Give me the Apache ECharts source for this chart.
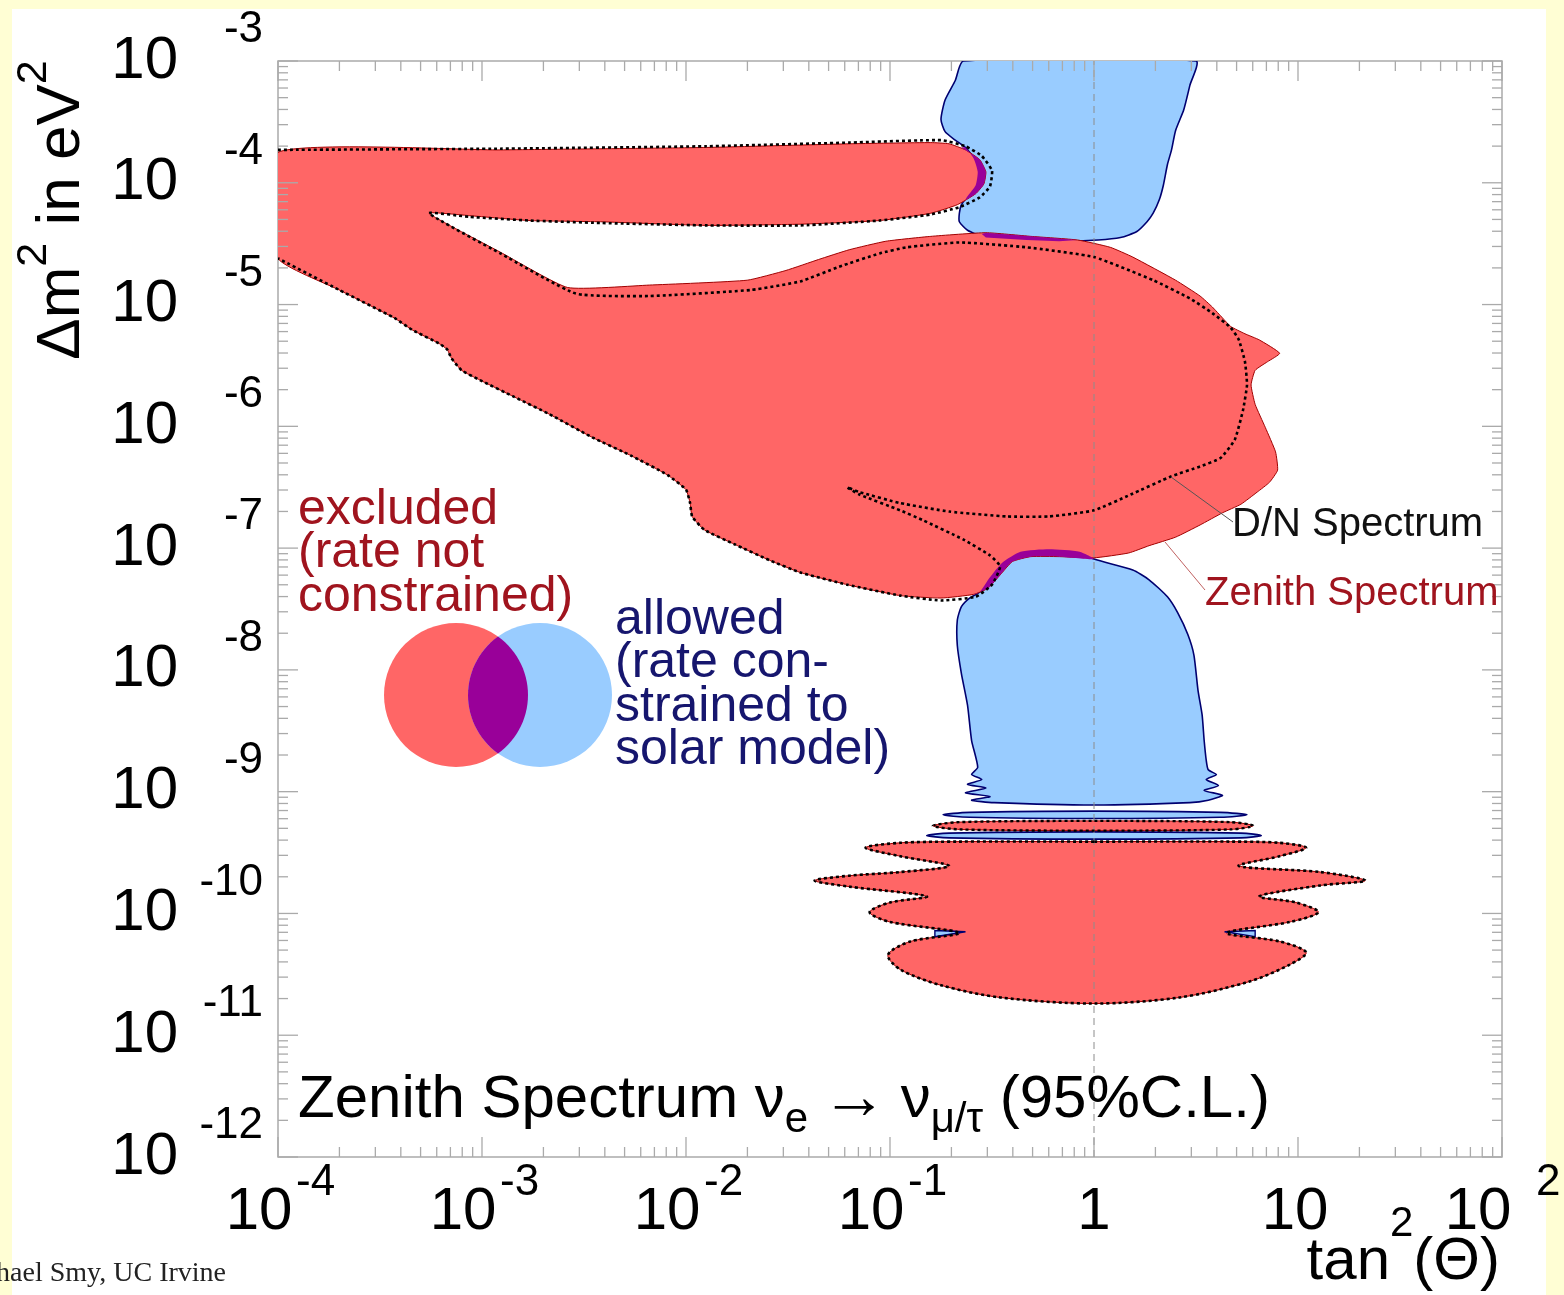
<!DOCTYPE html>
<html>
<head>
<meta charset="utf-8">
<title>Zenith Spectrum 95% C.L.</title>
<script src="https://cdn.jsdelivr.net/npm/echarts@6/dist/echarts.min.js"></script>
<style>
  html, body { margin: 0; padding: 0; background: #fffed4; width: 1564px; height: 1295px; overflow: hidden; }
  #paper { position: absolute; left: 12px; top: 9px; width: 1534px; height: 1286px; background: #ffffff; }
  #chart { position: absolute; left: 0; top: 0; width: 1564px; height: 1295px; }
</style>
</head>
<body>
<div id="paper"></div>
<div id="chart"></div>
<script>
// Contour vertices are stored as [log10(tan^2 theta), log10(dm^2 / eV^2)].

// Zenith-spectrum excluded region (upper, connected part)
const zenithExclUpper = [
  [-4.00,-3.75],[-2.91,-3.73],[-1.90,-3.71],[-1.20,-3.68],[-0.80,-3.67],[-0.71,-3.68],[-0.63,-3.73],
  [-0.56,-3.81],[-0.53,-3.91],[-0.54,-4.01],[-0.58,-4.09],[-0.67,-4.18],[-0.80,-4.25],[-1.05,-4.31],
  [-1.44,-4.34],[-1.90,-4.35],[-2.42,-4.32],[-2.77,-4.31],[-3.06,-4.27],[-3.26,-4.25],[-2.91,-4.57],
  [-2.58,-4.86],[-2.18,-4.84],[-1.70,-4.80],[-1.51,-4.72],[-1.35,-4.63],[-1.20,-4.55],[-1.02,-4.48],
  [-0.80,-4.44],[-0.53,-4.41],[-0.31,-4.44],[-0.08,-4.47],[0.08,-4.53],[0.19,-4.61],[0.40,-4.80],
  [0.52,-4.93],[0.58,-5.02],[0.63,-5.11],[0.67,-5.18],[0.74,-5.24],[0.81,-5.29],[0.91,-5.40],
  [0.85,-5.47],[0.79,-5.54],[0.77,-5.66],[0.79,-5.82],[0.84,-6.01],[0.89,-6.21],[0.90,-6.36],
  [0.86,-6.46],[0.80,-6.54],[0.72,-6.64],[0.63,-6.71],[0.52,-6.81],[0.40,-6.91],[0.27,-6.98],
  [0.17,-7.04],[0.00,-7.08],[-0.17,-7.07],[-0.31,-7.07],[-0.40,-7.11],[-0.46,-7.22],[-0.52,-7.33],
  [-0.59,-7.38],[-0.75,-7.41],[-0.95,-7.39],[-1.21,-7.30],[-1.44,-7.20],[-1.59,-7.10],[-1.76,-6.97],
  [-1.91,-6.85],[-1.97,-6.74],[-1.98,-6.63],[-2.00,-6.52],[-2.09,-6.40],[-2.27,-6.24],[-2.46,-6.09],
  [-2.67,-5.90],[-2.84,-5.76],[-3.01,-5.62],[-3.10,-5.54],[-3.15,-5.44],[-3.17,-5.37],[-3.21,-5.32],
  [-3.34,-5.21],[-3.43,-5.11],[-3.70,-4.88],[-4.00,-4.62]
];

// Day/night-spectrum excluded contour (upper part)
const dayNightUpper = [
  [-4.00,-3.73],[-2.91,-3.72],[-1.90,-3.70],[-1.20,-3.67],[-0.75,-3.65],[-0.63,-3.70],[-0.55,-3.78],
  [-0.50,-3.90],[-0.51,-4.03],[-0.56,-4.12],[-0.66,-4.20],[-0.80,-4.26],[-1.05,-4.31],[-1.44,-4.35],
  [-1.90,-4.35],[-2.42,-4.33],[-2.77,-4.31],[-3.06,-4.28],[-3.26,-4.25],[-2.91,-4.58],[-2.54,-4.91],
  [-2.18,-4.93],[-1.68,-4.88],[-1.44,-4.81],[-1.25,-4.69],[-1.05,-4.58],[-0.92,-4.53],[-0.66,-4.49],
  [-0.33,-4.53],[0.00,-4.61],[0.29,-4.80],[0.47,-4.95],[0.58,-5.07],[0.67,-5.19],[0.71,-5.29],
  [0.74,-5.47],[0.75,-5.66],[0.73,-5.87],[0.69,-6.11],[0.62,-6.26],[0.52,-6.33],[0.38,-6.41],
  [0.18,-6.56],[0.00,-6.69],[-0.22,-6.74],[-0.43,-6.74],[-0.71,-6.70],[-0.95,-6.63],[-1.15,-6.54],
  [-1.21,-6.50],[-1.15,-6.56],[-0.95,-6.69],[-0.84,-6.77],[-0.64,-6.93],[-0.51,-7.06],[-0.46,-7.15],
  [-0.50,-7.30],[-0.58,-7.40],[-0.75,-7.43],[-0.95,-7.39],[-1.21,-7.30],[-1.44,-7.20],[-1.59,-7.10],
  [-1.76,-6.97],[-1.91,-6.85],[-1.97,-6.74],[-1.98,-6.63],[-2.00,-6.52],[-2.09,-6.40],[-2.27,-6.24],
  [-2.46,-6.09],[-2.67,-5.90],[-2.84,-5.76],[-3.01,-5.62],[-3.10,-5.54],[-3.15,-5.44],[-3.17,-5.37],
  [-3.21,-5.32],[-3.34,-5.21],[-3.43,-5.11],[-3.70,-4.88],[-4.00,-4.62]
];

// Rate-constrained allowed region (large mixing angle, upper)
const allowedUpper = [
  [-0.64,-3.00],[-0.68,-3.16],[-0.73,-3.32],[-0.75,-3.48],[-0.73,-3.58],[-0.68,-3.65],[-0.63,-3.71],
  [-0.59,-3.80],[-0.57,-3.91],[-0.58,-4.02],[-0.62,-4.11],[-0.65,-4.18],[-0.66,-4.25],[-0.66,-4.32],
  [-0.62,-4.39],[-0.53,-4.45],[-0.33,-4.47],[-0.17,-4.48],[0.02,-4.47],[0.13,-4.45],[0.21,-4.40],
  [0.26,-4.32],[0.29,-4.25],[0.32,-4.14],[0.34,-4.02],[0.36,-3.85],[0.38,-3.73],[0.40,-3.57],
  [0.44,-3.40],[0.47,-3.20],[0.50,-3.00]
];

// Rate-constrained allowed region (LOW / vacuum, lower)
const allowedLower = [
  [0.00,-7.09],[0.19,-7.18],[0.27,-7.26],[0.36,-7.40],[0.41,-7.53],[0.46,-7.71],[0.49,-7.88],
  [0.51,-8.17],[0.53,-8.37],[0.54,-8.58],[0.55,-8.74],[0.56,-8.82],[0.60,-8.86],[0.55,-8.90],
  [0.61,-8.95],[0.54,-8.99],[0.63,-9.03],[0.56,-9.07],[0.47,-9.09],[0.00,-9.11],[-0.49,-9.09],
  [-0.60,-9.07],[-0.51,-9.04],[-0.63,-9.01],[-0.53,-8.97],[-0.62,-8.94],[-0.55,-8.90],[-0.60,-8.86],
  [-0.57,-8.80],[-0.60,-8.58],[-0.62,-8.29],[-0.65,-8.03],[-0.67,-7.80],[-0.67,-7.59],[-0.65,-7.48],
  [-0.61,-7.41],[-0.56,-7.36],[-0.51,-7.24],[-0.45,-7.12],[-0.36,-7.03],[-0.22,-7.01],[-0.07,-7.03]
];

// Thin vacuum bands just below the LOW region
const allowedBandA = [
  [-0.74,-9.19],[-0.61,-9.17],[0.00,-9.16],[0.62,-9.17],[0.75,-9.19],[0.62,-9.21],[0.00,-9.22],[-0.61,-9.21]
];
const zenithExclBand = [
  [-0.79,-9.28],[-0.66,-9.25],[0.00,-9.24],[0.67,-9.25],[0.78,-9.28],[0.67,-9.31],[0.00,-9.32],[-0.66,-9.31]
];
const allowedBandB = [
  [-0.82,-9.36],[-0.71,-9.34],[0.00,-9.33],[0.72,-9.34],[0.82,-9.36],[0.72,-9.38],[0.00,-9.39],[-0.71,-9.38]
];

// Zenith-spectrum excluded region (vacuum oscillation lobes)
const zenithExclLower = [
  [0.00,-9.41],[-0.66,-9.41],[-0.95,-9.42],[-1.12,-9.46],[-0.95,-9.53],[-0.71,-9.61],[-0.95,-9.66],
  [-1.20,-9.69],[-1.37,-9.73],[-1.20,-9.78],[-0.82,-9.86],[-1.00,-9.91],[-1.10,-9.99],[-1.00,-10.07],
  [-0.66,-10.16],[-0.90,-10.23],[-1.01,-10.34],[-0.95,-10.46],[-0.75,-10.59],[-0.46,-10.69],[0.00,-10.74],
  [0.42,-10.69],[0.76,-10.56],[0.96,-10.42],[1.04,-10.32],[0.91,-10.23],[0.65,-10.16],[0.96,-10.07],
  [1.10,-9.99],[0.99,-9.91],[0.81,-9.86],[1.11,-9.77],[1.33,-9.73],[1.11,-9.66],[0.71,-9.61],
  [0.91,-9.53],[1.04,-9.46],[0.91,-9.42],[0.67,-9.41]
];
const allowedNotchL = [[-0.78,-10.14],[-0.63,-10.15],[-0.78,-10.19]];
const allowedNotchR = [[0.79,-10.14],[0.64,-10.15],[0.79,-10.19]];

// Overlap of excluded and allowed regions
const overlapTip = [
  [-0.65,-3.71],[-0.56,-3.81],[-0.53,-3.91],[-0.54,-4.01],[-0.58,-4.09],[-0.63,-4.14],
  [-0.62,-4.11],[-0.58,-4.02],[-0.57,-3.91],[-0.59,-3.80],[-0.63,-3.71]
];
const overlapMid = [
  [-0.55,-4.42],[-0.53,-4.41],[-0.31,-4.44],[-0.08,-4.47],[-0.17,-4.48],[-0.33,-4.47],[-0.53,-4.45]
];
const overlapLow = [
  [-0.56,-7.36],[-0.51,-7.24],[-0.45,-7.12],[-0.36,-7.03],[-0.22,-7.01],[-0.07,-7.03],[0.00,-7.09],
  [-0.17,-7.07],[-0.31,-7.07],[-0.40,-7.11],[-0.46,-7.22],[-0.52,-7.33],[-0.59,-7.38]
];

// Axis decades and tick labels
const xDecades = [-4, -3, -2, -1, 0, 1, 2];
const xTickText = [['10','-4'],['10','-3'],['10','-2'],['10','-1'],['1',''],['10',''],['10','2']];
const yDecades = [-3, -4, -5, -6, -7, -8, -9, -10, -11, -12];
const yTickText = [['10','-3'],['10','-4'],['10','-5'],['10','-6'],['10','-7'],['10','-8'],
                   ['10','-9'],['10','-10'],['10','-11'],['10','-12']];

const X_MIN = 1e-4, X_MAX = 1e2, Y_MIN = 1e-12, Y_MAX = 1e-3;

const FONT = '"Liberation Sans", Arial, Helvetica, sans-serif';
const SERIF = '"Liberation Serif", "Times New Roman", serif';
const RED = '#ff6666', BLUE = '#99ccff', PURPLE = '#990099';
const RED_LINE = '#a00000', BLUE_LINE = '#000070';
const TXT_RED = '#a0141e', TXT_BLUE = '#16166e';
const AXIS = '#aaaaaa';

// text measuring for multi-size runs (super/subscripts)
const mctx = document.createElement('canvas').getContext('2d');
function tw(text, size, fam) { mctx.font = size + 'px ' + fam; return mctx.measureText(text).width; }
function run(pieces, x, y, align, color, fam) {
  fam = fam || FONT;
  const w = pieces.map(p => tw(p[0], p[1], fam));
  const total = w.reduce((a, b) => a + b, 0);
  let cx = align === 'right' ? x - total : (align === 'center' ? x - total / 2 : x);
  return pieces.map((p, i) => {
    const el = {
      type: 'text', x: cx, y: y + (p[2] || 0), z: 50,
      style: { text: p[0], font: p[1] + 'px ' + fam, fill: p[3] || color,
               textAlign: 'left', align: 'left', textVerticalAlign: 'middle', verticalAlign: 'middle' }
    };
    cx += w[i];
    return el;
  });
}

const toData = pts => pts.map(p => [Math.pow(10, p[0]), Math.pow(10, p[1])]);

function region(name, pts, opt) {
  const data = toData(pts);
  return {
    type: 'custom', name, coordinateSystem: 'cartesian2d', silent: true, z: opt.z, clip: true,
    data,
    renderItem(params, api) {
      if (params.dataIndex !== 0) return null;
      const points = data.map(d => api.coord(d));
      const smooth = opt.smooth || 0;
      if (opt.fill) {
        return { type: 'polygon', shape: { points, smooth },
                 style: { fill: opt.fill, stroke: opt.stroke || null, lineWidth: opt.width || 0 } };
      }
      if (opt.closed) {
        return { type: 'polygon', shape: { points, smooth },
                 style: { fill: null, stroke: opt.stroke, lineWidth: opt.width, lineDash: opt.dash || null } };
      }
      return { type: 'polyline', shape: { points, smooth },
               style: { fill: null, stroke: opt.stroke, lineWidth: opt.width, lineDash: opt.dash || null } };
    }
  };
}

// tick marks (major from decades, minor at 2..9 within each decade)
const xTicks = [], yTicks = [];
xDecades.forEach(d => xTicks.push([Math.pow(10, d), Y_MIN, 20]));
for (let d = -4; d < 2; d++) for (let m = 2; m <= 9; m++) xTicks.push([m * Math.pow(10, d), Y_MIN, 10]);
yDecades.forEach(d => yTicks.push([X_MIN, Math.pow(10, d), 20]));
for (let d = -12; d < -3; d++) for (let m = 2; m <= 9; m++) yTicks.push([X_MIN, m * Math.pow(10, d), 10]);

const tickStyle = { stroke: AXIS, lineWidth: 1.3 };
const xTickSeries = {
  type: 'custom', coordinateSystem: 'cartesian2d', silent: true, z: 8, data: xTicks,
  renderItem(params, api) {
    const cs = params.coordSys, len = api.value(2);
    const px = api.coord([api.value(0), Y_MIN])[0], b = cs.y + cs.height;
    return { type: 'group', children: [
      { type: 'line', shape: { x1: px, y1: b, x2: px, y2: b - len }, style: tickStyle },
      { type: 'line', shape: { x1: px, y1: cs.y, x2: px, y2: cs.y + len }, style: tickStyle } ] };
  }
};
const yTickSeries = {
  type: 'custom', coordinateSystem: 'cartesian2d', silent: true, z: 8, data: yTicks,
  renderItem(params, api) {
    const cs = params.coordSys, len = api.value(2);
    const py = api.coord([X_MIN, api.value(1)])[1], r = cs.x + cs.width;
    return { type: 'group', children: [
      { type: 'line', shape: { x1: cs.x, y1: py, x2: cs.x + len, y2: py }, style: tickStyle },
      { type: 'line', shape: { x1: r, y1: py, x2: r - len, y2: py }, style: tickStyle } ] };
  }
};

// tick labels in the "10^n" form
const xLabelSeries = {
  type: 'custom', coordinateSystem: 'cartesian2d', silent: true, z: 9,
  data: xDecades.map(d => [Math.pow(10, d), Y_MIN]),
  renderItem(params, api) {
    const cs = params.coordSys, t = xTickText[params.dataIndex];
    const px = api.coord([api.value(0), Y_MIN])[0], b = cs.y + cs.height;
    const st = (text, size, align) => ({ text, font: size + 'px ' + FONT, fill: '#000',
      textAlign: align, align, textVerticalAlign: 'middle', verticalAlign: 'middle' });
    if (!t[1]) return { type: 'text', x: px - (t[0] === '10' ? 3 : 0), y: b + 55, style: st(t[0], 60, 'center') };
    const last = params.dataIndex === xTickText.length - 1;
    return { type: 'group', children: [
      { type: 'text', x: px - (last ? 24 : 19), y: b + 55, style: st(t[0], 60, 'center') },
      { type: 'text', x: px + (last ? 34 : 18), y: b + 26, style: st(t[1], 44, 'left') } ] };
  }
};
const yLabelSeries = {
  type: 'custom', coordinateSystem: 'cartesian2d', silent: true, z: 9,
  data: yDecades.map(d => [X_MIN, Math.pow(10, d)]),
  renderItem(params, api) {
    const cs = params.coordSys, t = yTickText[params.dataIndex];
    const py = api.coord([X_MIN, api.value(1)])[1];
    const st = (text, size) => ({ text, font: size + 'px ' + FONT, fill: '#000',
      textAlign: 'right', align: 'right', textVerticalAlign: 'middle', verticalAlign: 'middle' });
    return { type: 'group', children: [
      { type: 'text', x: cs.x - 100, y: py, style: st(t[0], 60) },
      { type: 'text', x: cs.x - 15, y: py - 31, style: st(t[1], 44) } ] };
  }
};

// overlap legend drawing (two circles and their lens)
function lens(c1, c2, r) {
  const a = Math.acos((c2[0] - c1[0]) / 2 / r), pts = [];
  for (let i = 0; i <= 30; i++) { const t = -a + 2 * a * i / 30; pts.push([c1[0] + r * Math.cos(t), c1[1] + r * Math.sin(t)]); }
  for (let i = 0; i <= 30; i++) { const t = Math.PI - a + 2 * a * i / 30; pts.push([c2[0] + r * Math.cos(t), c2[1] + r * Math.sin(t)]); }
  return pts;
}
const vennRed = [456, 695], vennBlue = [540, 695], vennR = 72;

const graphics = [].concat(
  [
    { type: 'circle', z: 40, shape: { cx: vennRed[0], cy: vennRed[1], r: vennR }, style: { fill: RED } },
    { type: 'circle', z: 41, shape: { cx: vennBlue[0], cy: vennBlue[1], r: vennR }, style: { fill: BLUE } },
    { type: 'polygon', z: 42, shape: { points: lens(vennRed, vennBlue, vennR) }, style: { fill: PURPLE } },
    { type: 'line', z: 45, shape: { x1: 1171, y1: 477, x2: 1233, y2: 522 }, style: { stroke: '#555', lineWidth: 1 } },
    { type: 'line', z: 45, shape: { x1: 1165, y1: 542, x2: 1205, y2: 590 }, style: { stroke: '#c06060', lineWidth: 1 } },
    { type: 'group', x: 62, y: 210, rotation: Math.PI / 2, z: 50,
      children: run([['\u0394m', 62], ['2', 43, -28], [' in eV', 62], ['2', 43, -28]], 0, 0, 'center', '#000') }
  ],
  run([['tan', 60], ['2', 42, -38], ['(\u0398)', 60]], 1500, 1262, 'right', '#000'),
  run([['Zenith Spectrum ', 60], ['\u03bd', 60], ['e', 42, 20], ['\u2009\u2192\u2009', 66], ['\u03bd', 60],
       ['\u03bc/\u03c4', 42, 20], [' (95%C.L.)', 60]], 298, 1100, 'left', '#000'),
  run([['excluded', 50]], 298, 510, 'left', TXT_RED),
  run([['(rate not', 50]], 298, 553, 'left', TXT_RED),
  run([['constrained)', 50]], 298, 597, 'left', TXT_RED),
  run([['allowed', 50]], 615, 620, 'left', TXT_BLUE),
  run([['(rate con-', 50]], 615, 663, 'left', TXT_BLUE),
  run([['strained to', 50]], 615, 707, 'left', TXT_BLUE),
  run([['solar model)', 50]], 615, 750, 'left', TXT_BLUE),
  run([['D/N Spectrum', 40]], 1232, 525, 'left', '#111'),
  run([['Zenith Spectrum', 40]], 1205, 594, 'left', TXT_RED),
  run([['Michael Smy, UC Irvine', 28]], 226, 1274, 'right', '#222', SERIF)
);

const chart = echarts.init(document.getElementById('chart'), null, { renderer: 'canvas' });
chart.setOption({
  animation: false,
  backgroundColor: 'transparent',
  grid: { left: 278, top: 61, width: 1224, height: 1096, show: true,
          borderColor: AXIS, borderWidth: 1.5, backgroundColor: 'transparent' },
  xAxis: { type: 'log', logBase: 10, min: X_MIN, max: X_MAX, show: false },
  yAxis: { type: 'log', logBase: 10, min: Y_MIN, max: Y_MAX, show: false },
  series: [
    region('allowed-upper', allowedUpper, { fill: BLUE, stroke: BLUE_LINE, width: 1.6, z: 2, smooth: 0.2 }),
    region('allowed-lower', allowedLower, { fill: BLUE, stroke: BLUE_LINE, width: 1.6, z: 2, smooth: 0.2 }),
    region('allowed-band-a', allowedBandA, { fill: BLUE, stroke: BLUE_LINE, width: 1.6, z: 2, smooth: 0.3 }),
    region('allowed-band-b', allowedBandB, { fill: BLUE, stroke: BLUE_LINE, width: 1.8, z: 2, smooth: 0.3 }),
    region('zenith-upper', zenithExclUpper, { fill: RED, stroke: RED_LINE, width: 1, z: 3, smooth: 0.15 }),
    region('zenith-band', zenithExclBand, { fill: RED, stroke: RED_LINE, width: 1, z: 3, smooth: 0.3 }),
    region('zenith-lower', zenithExclLower, { fill: RED, stroke: RED_LINE, width: 1, z: 3, smooth: 0.3 }),
    region('allowed-notch-l', allowedNotchL, { fill: BLUE, stroke: BLUE_LINE, width: 1.4, z: 4 }),
    region('allowed-notch-r', allowedNotchR, { fill: BLUE, stroke: BLUE_LINE, width: 1.4, z: 4 }),
    region('overlap-tip', overlapTip, { fill: PURPLE, z: 4, smooth: 0.2 }),
    region('overlap-mid', overlapMid, { fill: PURPLE, z: 4 }),
    region('overlap-low', overlapLow, { fill: PURPLE, z: 4, smooth: 0.2 }),
    {
      type: 'line', silent: true, z: 5, symbol: 'none',
      data: [[1, Y_MIN], [1, Y_MAX]],
      lineStyle: { color: '#8c8c8c', width: 1, type: [7, 5] }
    },
    region('dn-upper', dayNightUpper, { stroke: '#000', width: 2.6, dash: [3, 3], z: 6, smooth: 0.15 }),
    region('dn-band', zenithExclBand, { stroke: '#000', width: 2.4, dash: [3, 3], closed: true, z: 6, smooth: 0.3 }),
    region('dn-lower', zenithExclLower, { stroke: '#000', width: 2.6, dash: [3, 3], closed: true, z: 6, smooth: 0.3 }),
    xTickSeries, yTickSeries, xLabelSeries, yLabelSeries
  ],
  graphic: { elements: graphics }
});
</script>
</body>
</html>
